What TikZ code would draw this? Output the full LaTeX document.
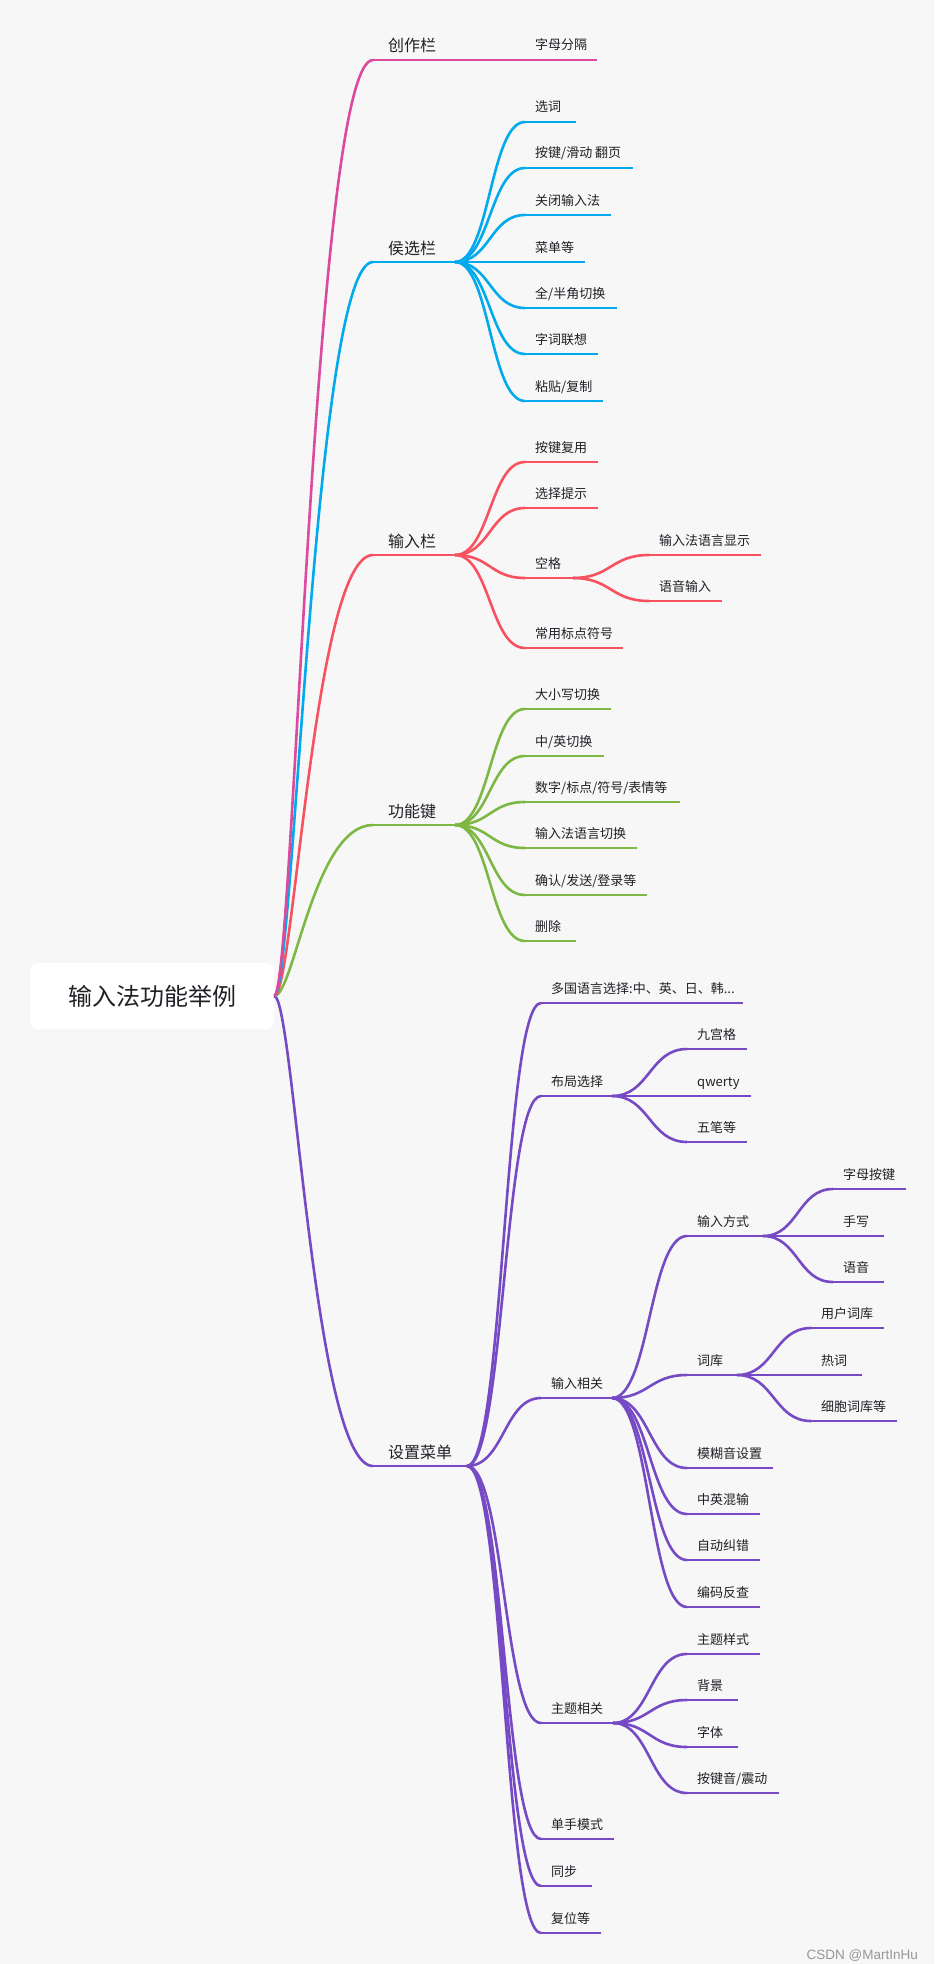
\documentclass[tikz,border=0pt]{standalone}
\usepackage{fontspec}
\setmainfont{Noto Sans CJK SC}
\newfontfamily\wmfont{Liberation Sans}
\usetikzlibrary{calc}
\definecolor{bg}{RGB}{247,247,247}
\definecolor{txt}{RGB}{32,32,38}
\definecolor{cpink}{RGB}{220,74,160}
\definecolor{cblue}{RGB}{0,170,236}
\definecolor{cred}{RGB}{247,82,96}
\definecolor{cgreen}{RGB}{125,184,69}
\definecolor{cpurple}{RGB}{117,74,196}
\tikzset{
  br/.style={line width=2.6pt},
  l1/.style={anchor=base west, inner sep=0pt, xshift=15pt, yshift=8pt, text=txt, font=\fontsize{16}{16}\selectfont},
  l2/.style={anchor=base west, inner sep=0pt, xshift=10pt, yshift=10pt, text=txt, font=\fontsize{13}{13}\selectfont},
  rootbox/.style={fill=white, rounded corners=7pt, minimum width=244pt, minimum height=66pt, inner sep=0pt, text=txt, font=\fontsize{24}{24}\selectfont},
}
% branch item: name, colour, xs, xe, y, style, text
\newcommand\mm[7]{%
  \coordinate (#1-s) at (#3,#5);
  \coordinate (#1-e) at (#4,#5);
  \draw[br,#2] (#1-s) -- (#1-e);
  \node[#6] (#1) at (#1-s) {#7};}
% root connector
\newcommand\rlink[3]{%
  \draw[br,#1] let \p1=(#2), \p2=(#3) in (#2) .. controls ({\x1+0.2*(\x2-\x1)},\y1) and ({\x1+0.4*(\x2-\x1)},\y2) .. (#3);}
% child connector
\newcommand\clink[3]{%
  \draw[br,#1] let \p1=(#2), \p2=(#3) in (#2) .. controls ({\x1+0.5*(\x2-\x1)},\y1) and ({\x1+0.5*(\x2-\x1)},\y2) .. (#3);}
\begin{document}
\begin{tikzpicture}[x=1pt,y=-1pt]
\fill[bg] (0,0) rectangle (934,1964);
\useasboundingbox (0,0) rectangle (934,1964);

\node[rootbox] (root) at (152,996) {输入法功能举例};

% level 1
\mm{cz}{cpink}{373}{455}{60}{l1}{创作栏}
\mm{hx}{cblue}{373}{455}{262}{l1}{侯选栏}
\mm{sr}{cred}{373}{455}{555}{l1}{输入栏}
\mm{gn}{cgreen}{373}{455}{825}{l1}{功能键}
\mm{sz}{cpurple}{373}{467}{1466}{l1}{设置菜单}
\rlink{cpurple}{root.east}{sz-s}
\rlink{cgreen}{root.east}{gn-s}
\rlink{cred}{root.east}{sr-s}
\rlink{cblue}{root.east}{hx-s}
\rlink{cpink}{root.east}{cz-s}

% 创作栏
\mm{zmfg}{cpink}{525}{597}{60}{l2}{字母分隔}
\clink{cpink}{cz-e}{zmfg-s}

% 侯选栏
\mm{xc}{cblue}{525}{576}{122}{l2}{选词}
\mm{fy}{cblue}{525}{633}{168}{l2}{按键/滑动 翻页}
\mm{gb}{cblue}{525}{611}{215}{l2}{关闭输入法}
\mm{cd}{cblue}{525}{585}{262}{l2}{菜单等}
\mm{qb}{cblue}{525}{617}{308}{l2}{全/半角切换}
\mm{lx}{cblue}{525}{598}{354}{l2}{字词联想}
\mm{zt}{cblue}{525}{603}{401}{l2}{粘贴/复制}
\foreach \c in {xc,fy,gb,cd,qb,lx,zt} {\clink{cblue}{hx-e}{\c-s}}

% 输入栏
\mm{jfy}{cred}{525}{598}{462}{l2}{按键复用}
\mm{xzts}{cred}{525}{598}{508}{l2}{选择提示}
\mm{kg}{cred}{525}{573}{578}{l2}{空格}
\mm{bd}{cred}{525}{623}{648}{l2}{常用标点符号}
\foreach \c in {jfy,xzts,kg,bd} {\clink{cred}{sr-e}{\c-s}}
\mm{yyxs}{cred}{649}{761}{555}{l2}{输入法语言显示}
\mm{yysr}{cred}{649}{722}{601}{l2}{语音输入}
\clink{cred}{kg-e}{yyxs-s}
\clink{cred}{kg-e}{yysr-s}

% 功能键
\mm{dxx}{cgreen}{525}{611}{709}{l2}{大小写切换}
\mm{zy}{cgreen}{525}{604}{756}{l2}{中/英切换}
\mm{sz2}{cgreen}{525}{680}{802}{l2}{数字/标点/符号/表情等}
\mm{yyqh}{cgreen}{525}{637}{848}{l2}{输入法语言切换}
\mm{qr}{cgreen}{525}{647}{895}{l2}{确认/发送/登录等}
\mm{sc}{cgreen}{525}{576}{941}{l2}{删除}
\foreach \c in {dxx,zy,sz2,yyqh,qr,sc} {\clink{cgreen}{gn-e}{\c-s}}

% 设置菜单
\mm{dgyy}{cpurple}{541}{743}{1003}{l2}{多国语言选择:中、英、日、韩...}
\mm{bj}{cpurple}{541}{612}{1096}{l2}{布局选择}
\mm{xg}{cpurple}{541}{612}{1398}{l2}{输入相关}
\mm{ztxg}{cpurple}{541}{613}{1723}{l2}{主题相关}
\mm{ds}{cpurple}{541}{614}{1839}{l2}{单手模式}
\mm{tb}{cpurple}{541}{592}{1886}{l2}{同步}
\mm{fw}{cpurple}{541}{601}{1933}{l2}{复位等}
\foreach \c in {dgyy,bj,xg,ztxg,ds,tb,fw} {\clink{cpurple}{sz-e}{\c-s}}

% 布局选择
\mm{jgg}{cpurple}{687}{747}{1049}{l2}{九宫格}
\mm{qw}{cpurple}{687}{751}{1096}{l2}{qwerty}
\mm{wb}{cpurple}{687}{747}{1142}{l2}{五笔等}
\foreach \c in {jgg,qw,wb} {\clink{cpurple}{bj-e}{\c-s}}

% 输入相关
\mm{srfs}{cpurple}{687}{763}{1236}{l2}{输入方式}
\mm{ck}{cpurple}{687}{737}{1375}{l2}{词库}
\mm{mhy}{cpurple}{687}{773}{1468}{l2}{模糊音设置}
\mm{zyhs}{cpurple}{687}{760}{1514}{l2}{中英混输}
\mm{zdjc}{cpurple}{687}{760}{1560}{l2}{自动纠错}
\mm{bmfc}{cpurple}{687}{760}{1607}{l2}{编码反查}
\foreach \c in {srfs,ck,mhy,zyhs,zdjc,bmfc} {\clink{cpurple}{xg-e}{\c-s}}

% 输入方式
\mm{zmaj}{cpurple}{833}{906}{1189}{l2}{字母按键}
\mm{sx}{cpurple}{833}{884}{1236}{l2}{手写}
\mm{yy}{cpurple}{833}{884}{1282}{l2}{语音}
\foreach \c in {zmaj,sx,yy} {\clink{cpurple}{srfs-e}{\c-s}}

% 词库
\mm{yhck}{cpurple}{811}{884}{1328}{l2}{用户词库}
\mm{rc}{cpurple}{811}{862}{1375}{l2}{热词}
\mm{xbck}{cpurple}{811}{897}{1421}{l2}{细胞词库等}
\foreach \c in {yhck,rc,xbck} {\clink{cpurple}{ck-e}{\c-s}}

% 主题相关
\mm{ztys}{cpurple}{687}{760}{1654}{l2}{主题样式}
\mm{beij}{cpurple}{687}{738}{1700}{l2}{背景}
\mm{zt2}{cpurple}{687}{738}{1747}{l2}{字体}
\mm{ajy}{cpurple}{687}{779}{1793}{l2}{按键音/震动}
\foreach \c in {ztys,beij,zt2,ajy} {\clink{cpurple}{ztxg-e}{\c-s}}

\node[anchor=base east, inner sep=0pt, text={rgb,255:red,150;green,150;blue,150}, font=\wmfont\fontsize{13.5}{13.5}\selectfont] (wm) at (918,1964) {\raisebox{5pt}{CSDN @MartInHu}};
\end{tikzpicture}
\end{document}
